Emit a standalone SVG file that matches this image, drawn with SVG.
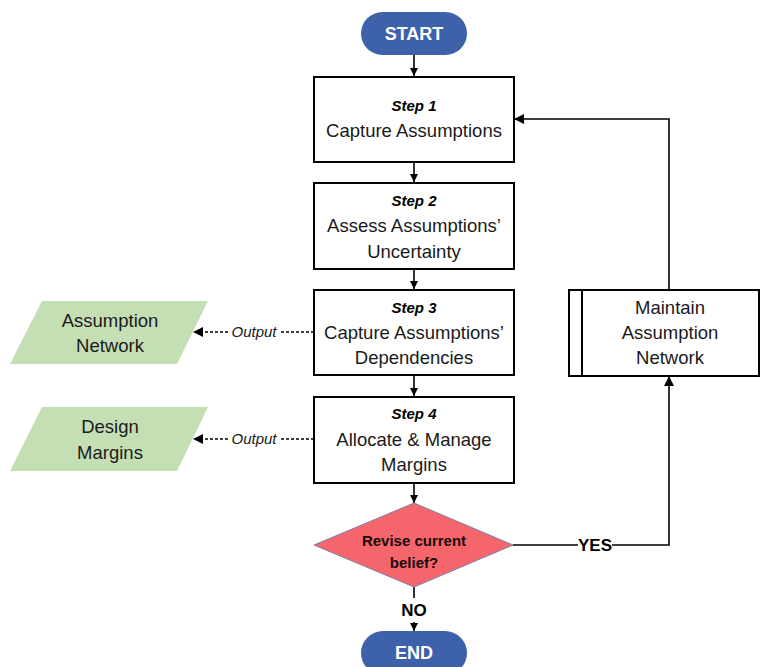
<svg xmlns="http://www.w3.org/2000/svg" width="760" height="667" viewBox="0 0 760 667">
<defs>
<marker id="ah" viewBox="0 0 10 10" refX="10" refY="5" markerWidth="8" markerHeight="8" markerUnits="userSpaceOnUse" orient="auto"><path d="M0,0 L10,5 L0,10 z" fill="#000"/></marker>
<marker id="ah2" viewBox="0 0 10 10" refX="10" refY="5" markerWidth="10" markerHeight="10" markerUnits="userSpaceOnUse" orient="auto"><path d="M0,0 L10,5 L0,10 z" fill="#000"/></marker>
</defs>
<style>
.box{fill:#fff;stroke:#000;stroke-width:2}
.term{fill:#3E62AA}
.io{fill:#C5DFB4}
.t{font-family:"Liberation Sans",Arial,sans-serif;font-size:18.5px;fill:#1a1a1a;text-anchor:middle}
.st{font-family:"Liberation Sans",Arial,sans-serif;font-size:15px;font-weight:bold;font-style:italic;fill:#000;text-anchor:middle}
.tw{font-family:"Liberation Sans",Arial,sans-serif;font-size:18px;font-weight:bold;fill:#fff;text-anchor:middle}
.lb{font-family:"Liberation Sans",Arial,sans-serif;font-size:17px;font-weight:bold;fill:#000;text-anchor:middle}
.dt{font-family:"Liberation Sans",Arial,sans-serif;font-size:15px;font-weight:bold;fill:#1a0a0a;text-anchor:middle}
.out{font-family:"Liberation Sans",Arial,sans-serif;font-size:15px;font-style:italic;fill:#1a1a1a;text-anchor:middle}
.c{fill:none;stroke:#000;stroke-width:1.6}
.d{fill:none;stroke:#000;stroke-width:1.6;stroke-dasharray:3,2}
</style>
<g id="connectors">
<line class="c" x1="414" y1="55" x2="414" y2="76" marker-end="url(#ah)"/>
<line class="c" x1="414" y1="162" x2="414" y2="182" marker-end="url(#ah)"/>
<line class="c" x1="414" y1="269" x2="414" y2="289" marker-end="url(#ah)"/>
<line class="c" x1="414" y1="375" x2="414" y2="396" marker-end="url(#ah)"/>
<line class="c" x1="414" y1="483" x2="414" y2="503" marker-end="url(#ah)"/>
<line class="c" x1="414" y1="587" x2="414" y2="598"/>
<line class="c" x1="414" y1="622" x2="414" y2="631" marker-end="url(#ah)"/>
<text class="lb" x="414" y="616">NO</text>
<polyline class="c" points="513,545 578,545"/>
<polyline class="c" points="612,545 669,545 669,376" marker-end="url(#ah2)"/>
<text class="lb" x="595" y="551">YES</text>
<polyline class="c" points="669,290 669,119 514,119" marker-end="url(#ah2)"/>
<line class="d" x1="314" y1="332" x2="280" y2="332"/>
<line class="d" x1="228" y1="332" x2="193" y2="332" marker-end="url(#ah2)"/>
<text class="out" x="254" y="337">Output</text>
<line class="d" x1="314" y1="439" x2="280" y2="439"/>
<line class="d" x1="228" y1="439" x2="193" y2="439" marker-end="url(#ah2)"/>
<text class="out" x="254" y="444">Output</text>
</g>
<g id="start">
<rect class="term" x="361" y="12" width="106" height="43" rx="21.5"/>
<text class="tw" x="414" y="40">START</text>
</g>
<g id="step1">
<rect class="box" x="314" y="77" width="200" height="85"/>
<text class="st" x="414" y="111">Step 1</text>
<text class="t" x="414" y="137">Capture Assumptions</text>
</g>
<g id="step2">
<rect class="box" x="314" y="183" width="200" height="86"/>
<text class="st" x="414" y="206">Step 2</text>
<text class="t" x="414" y="232">Assess Assumptions’</text>
<text class="t" x="414" y="258">Uncertainty</text>
</g>
<g id="step3">
<rect class="box" x="314" y="290" width="200" height="85"/>
<text class="st" x="414" y="313">Step 3</text>
<text class="t" x="414" y="339">Capture Assumptions’</text>
<text class="t" x="414" y="364">Dependencies</text>
</g>
<g id="step4">
<rect class="box" x="314" y="397" width="200" height="86"/>
<text class="st" x="414" y="419">Step 4</text>
<text class="t" x="414" y="446">Allocate &amp; Manage</text>
<text class="t" x="414" y="471">Margins</text>
</g>
<g id="decision">
<polygon points="414,503 513,545 414,587 314,545" fill="#F4666B" stroke="#7F7FB0" stroke-width="1"/>
<text class="dt" x="414" y="546">Revise current</text>
<text class="dt" x="414" y="568">belief?</text>
</g>
<g id="end">
<rect class="term" x="361" y="631" width="106" height="44" rx="22"/>
<text class="tw" x="414" y="659">END</text>
</g>
<g id="maintain">
<rect class="box" x="569" y="290" width="190" height="86"/>
<line x1="582" y1="290" x2="582" y2="376" stroke="#000" stroke-width="2"/>
<text class="t" x="670" y="314">Maintain</text>
<text class="t" x="670" y="339">Assumption</text>
<text class="t" x="670" y="364">Network</text>
</g>
<g id="assumption-network">
<polygon class="io" points="42,301 208,301 177,364 10,364"/>
<text class="t" x="110" y="327">Assumption</text>
<text class="t" x="110" y="352">Network</text>
</g>
<g id="design-margins">
<polygon class="io" points="42,407 208,407 177,471 10,471"/>
<text class="t" x="110" y="433">Design</text>
<text class="t" x="110" y="459">Margins</text>
</g>
</svg>
